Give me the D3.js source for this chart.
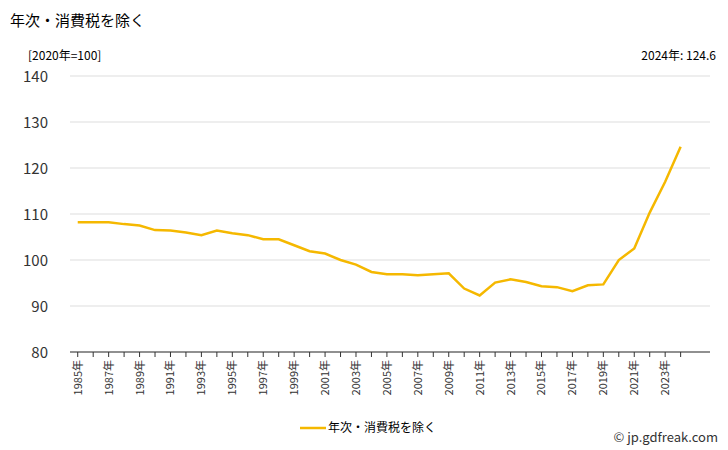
<!DOCTYPE html>
<html><head><meta charset="utf-8">
<script src="https://cdn.jsdelivr.net/npm/d3@7"></script>
<style>body{margin:0;background:#fff;font-family:"Noto Sans CJK JP","Noto Sans",sans-serif;}</style>
</head><body><div id="chart"></div>
<script>
const years = d3.range(1985, 2025);
const values = [108.2,108.2,108.2,107.8,107.5,106.5,106.4,106.0,105.4,106.4,
  105.8,105.4,104.5,104.5,103.2,101.9,101.4,100.0,99.0,97.4,
  96.9,96.9,96.7,96.9,97.1,93.8,92.3,95.1,95.8,95.2,
  94.3,94.1,93.2,94.5,94.7,100.0,102.5,110.3,117.0,124.6];
const yTicks = [80, 90, 100, 110, 120, 130, 140];
const seriesName = "年次・消費税を除く";

const width = 728, height = 450;
const m = {left: 70, right: 18, top: 76, bottom: 98};
const svg = d3.select("#chart").append("svg").attr("width", width).attr("height", height);

const x = d3.scaleLinear().domain([1984.5, 2025.9]).range([m.left, width - m.right]);
const y = d3.scaleLinear().domain([80, 140]).range([height - m.bottom, m.top]);

svg.append("text").attr("x", 10).attr("y", 26).attr("font-size", 15).text(seriesName);
svg.append("text").attr("x", 28).attr("y", 60).attr("font-size", 12).text("[2020年=100]");
svg.append("text").attr("x", width - 12).attr("y", 60).attr("font-size", 12)
  .attr("text-anchor", "end").text("2024年: 124.6");

// grid
svg.append("g").selectAll("line").data(yTicks).join("line")
  .attr("x1", m.left).attr("x2", width - m.right)
  .attr("y1", d => y(d)).attr("y2", d => y(d))
  .attr("stroke", "#ddd");

svg.append("g").selectAll("text").data(yTicks).join("text")
  .attr("x", m.left - 22).attr("y", d => y(d) + 6)
  .attr("text-anchor", "end").attr("font-size", 15).attr("fill", "#333").text(d => d);

// x axis
svg.append("line").attr("x1", m.left).attr("x2", width - m.right)
  .attr("y1", y(80)).attr("y2", y(80)).attr("stroke", "#333");
svg.append("g").selectAll("line").data(years).join("line")
  .attr("x1", d => x(d)).attr("x2", d => x(d))
  .attr("y1", y(80)).attr("y2", y(80) + 5).attr("stroke", "#333");
svg.append("g").selectAll("text").data(years.filter(d => d % 2 === 1)).join("text")
  .attr("transform", d => `translate(${x(d) + 4},${y(80) + 8}) rotate(-90)`)
  .attr("text-anchor", "end").attr("font-size", 11).attr("fill", "#333").text(d => d + "年");

const line = d3.line().x((d, i) => x(years[i])).y(d => y(d));
svg.append("path").datum(values).attr("d", line)
  .attr("fill", "none").attr("stroke", "#f5b800").attr("stroke-width", 2.5);

// legend
svg.append("line").attr("x1", 300).attr("x2", 326).attr("y1", 428).attr("y2", 428)
  .attr("stroke", "#f5b800").attr("stroke-width", 2.5);
svg.append("text").attr("x", 328).attr("y", 432).attr("font-size", 12).text(seriesName);

svg.append("text").attr("x", width - 10).attr("y", 442).attr("font-size", 13)
  .attr("text-anchor", "end").attr("fill", "#333").text("© jp.gdfreak.com");
</script></body></html>
